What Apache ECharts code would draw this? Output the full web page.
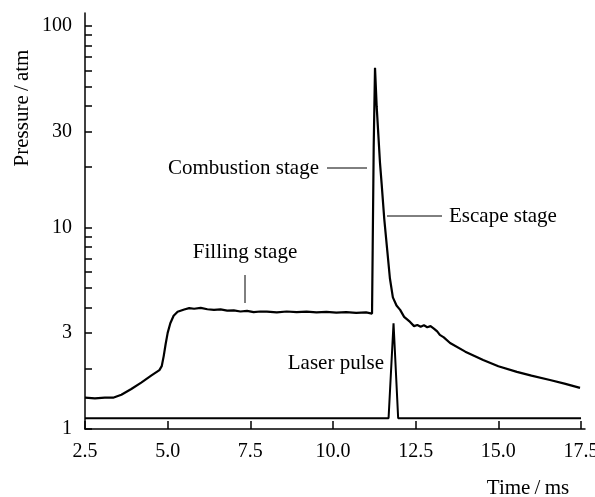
<!DOCTYPE html>
<html>
<head>
<meta charset="utf-8">
<script src="https://cdn.jsdelivr.net/npm/echarts@6/dist/echarts.min.js"></script>
<style>
  html, body { margin: 0; padding: 0; background: #fff; }
  #chart { width: 595px; height: 497px; }
</style>
</head>
<body>
<div id="chart"></div>
<script>
// pressure trace, time in ms, pressure in atm
const pressureTime = [2.5, 2.8, 3.1, 3.35, 3.6, 3.9, 4.2, 4.5, 4.75, 4.82, 4.88, 4.94, 5.0, 5.08, 5.18, 5.3, 5.5, 5.65, 5.8, 6.0, 6.2, 6.4, 6.6, 6.8, 7.0, 7.2, 7.4, 7.6, 7.8, 8.0, 8.3, 8.6, 8.9, 9.2, 9.5, 9.8, 10.1, 10.4, 10.7, 11.0, 11.18, 11.2, 11.23, 11.27, 11.32, 11.37, 11.42, 11.47, 11.55, 11.64, 11.72, 11.81, 11.92, 12.03, 12.15, 12.33, 12.45, 12.55, 12.65, 12.75, 12.85, 12.95, 13.05, 13.15, 13.23, 13.35, 13.54, 14.0, 14.54, 15.0, 15.56, 16.0, 16.56, 17.0, 17.47]
const pressureValue = [1.43, 1.42, 1.43, 1.43, 1.48, 1.58, 1.70, 1.84, 1.96, 2.05, 2.3, 2.65, 3.0, 3.35, 3.65, 3.82, 3.92, 3.98, 3.95, 3.99, 3.93, 3.9, 3.92, 3.87, 3.88, 3.83, 3.86, 3.8, 3.83, 3.82, 3.79, 3.83, 3.8, 3.82, 3.79, 3.81, 3.78, 3.8, 3.77, 3.79, 3.74, 8, 25, 62, 40, 29, 21, 16.5, 11, 7.7, 5.6, 4.5, 4.1, 3.9, 3.6, 3.4, 3.24, 3.28, 3.22, 3.27, 3.2, 3.24, 3.15, 3.05, 2.93, 2.85, 2.67, 2.42, 2.2, 2.05, 1.92, 1.84, 1.75, 1.68, 1.60]

// laser pulse trace
const laserTime = [2.5, 11.68, 11.83, 11.97, 17.5]
const laserValue = [1.13, 1.13, 3.35, 1.13, 1.13]

const xTicks = [2.5, 5, 7.5, 10, 12.5, 15, 17.5]
const yLabels = [1, 3, 10, 30, 100]
const yTicks = [1, 2, 3, 4, 5, 6, 7, 8, 9, 10, 20, 30, 40, 50, 60, 70, 80, 90, 100]

const font = 'Liberation Serif'
const textStyle = { fontFamily: font, fontSize: 21, fill: '#000', verticalAlign: 'middle' }

var myChart = echarts.init(document.getElementById('chart'))
var option = {
    animation: false,
    grid: { left: 85, right: 10, top: 13, bottom: 68, containLabel: false, outerBoundsMode: 'none' },
    xAxis: {
        type: 'value',
        min: 2.5,
        max: 17.62,
        axisLine: { lineStyle: { color: '#000', width: 1.5 } },
        axisTick: { inside: true, length: 8, customValues: xTicks, lineStyle: { color: '#000', width: 1.5 } },
        axisLabel: {
            customValues: xTicks,
            color: '#000', fontFamily: font, fontSize: 20, margin: 13,
            formatter: function (v) { return v.toFixed(1) }
        },
        splitLine: { show: false }
    },
    yAxis: {
        type: 'log',
        logBase: 10,
        min: 1,
        max: 116,
        axisLine: { show: true, lineStyle: { color: '#000', width: 1.5 } },
        axisTick: { show: true, inside: true, length: 7, customValues: yTicks, lineStyle: { color: '#000', width: 1.5 } },
        axisLabel: {
            customValues: yLabels,
            color: '#000', fontFamily: font, fontSize: 20, margin: 13
        },
        splitLine: { show: false }
    },
    series: [
        {
            name: 'Pressure',
            type: 'line',
            symbol: 'none',
            lineStyle: { color: '#000', width: 2.2 },
            data: pressureTime.map((t, i) => [t, pressureValue[i]])
        },
        {
            name: 'Laser pulse',
            type: 'line',
            symbol: 'none',
            lineStyle: { color: '#000', width: 2 },
            data: laserTime.map((t, i) => [t, laserValue[i]])
        }
    ],
    graphic: [
        { type: 'text', x: 22, y: 108, rotation: Math.PI / 2,
          style: Object.assign({ text: 'Pressure\u2009/\u2009atm', align: 'center' }, textStyle) },
        { type: 'text', x: 528, y: 488,
          style: Object.assign({ text: 'Time\u2009/\u2009ms', align: 'center' }, textStyle) },
        { type: 'text', x: 319, y: 168,
          style: Object.assign({ text: 'Combustion stage', align: 'right' }, textStyle) },
        { type: 'line', shape: { x1: 327, y1: 168, x2: 367, y2: 168 }, style: { stroke: '#000', lineWidth: 1 } },
        { type: 'line', shape: { x1: 387, y1: 216, x2: 442, y2: 216 }, style: { stroke: '#000', lineWidth: 1 } },
        { type: 'text', x: 449, y: 216,
          style: Object.assign({ text: 'Escape stage', align: 'left' }, textStyle) },
        { type: 'text', x: 245, y: 252,
          style: Object.assign({ text: 'Filling stage', align: 'center' }, textStyle) },
        { type: 'line', shape: { x1: 245, y1: 275, x2: 245, y2: 303 }, style: { stroke: '#000', lineWidth: 1 } },
        { type: 'text', x: 384, y: 363,
          style: Object.assign({ text: 'Laser pulse', align: 'right' }, textStyle) }
    ]
}
myChart.setOption(option)
</script>
</body>
</html>
